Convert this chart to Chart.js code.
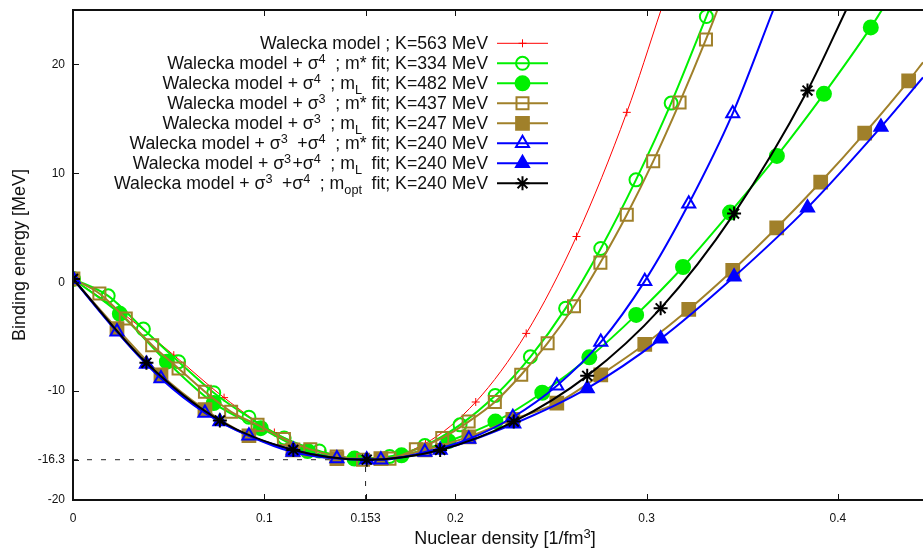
<!DOCTYPE html>
<html>
<head>
<meta charset="utf-8">
<title>Binding energy</title>
<script src="https://cdn.jsdelivr.net/npm/chart.js@4.4.0/dist/chart.umd.min.js"></script>
<style>
    html, body { margin: 0; padding: 0; background: #fff; }
    #wrap { width: 923px; height: 549px; }
</style>
</head>
<body>
<div id="wrap"><canvas id="chart" width="923" height="549"></canvas></div>
<script>
// axis ticks
const xTicks = [0, 0.1, 0.153, 0.2, 0.3, 0.4];
const yTicks = [-20, -16.3, -10, 0, 10, 20];

// marker points; *End = where the curve leaves the frame
const walX = [0, 0.0263, 0.0527, 0.079, 0.1053, 0.1317, 0.158, 0.1843, 0.2106, 0.237, 0.2633, 0.2896];
const walY = [0.3, -2.9, -6.7, -10.6, -13.8, -15.7, -16.2, -14.8, -11.0, -4.7, 4.2, 15.6];
const walEnd = [0.3075, 25];

const s4mX = [0, 0.0184, 0.0368, 0.0552, 0.0736, 0.092, 0.1104, 0.1288, 0.1472, 0.1656, 0.184, 0.2024, 0.2208, 0.2392, 0.2576, 0.276, 0.2944, 0.3128, 0.3312];
const s4mY = [0.3, -1.25, -4.3, -7.3, -10.15, -12.4, -14.3, -15.5, -16.2, -16.0, -15.0, -13.1, -10.4, -6.85, -2.4, 3.1, 9.4, 16.45, 24.4];
const s4mEnd = [0.3326, 25];

const s4lX = [0, 0.0245, 0.0491, 0.0736, 0.0982, 0.1227, 0.1472, 0.1718, 0.1963, 0.2209, 0.2454, 0.27, 0.2945, 0.319, 0.3436, 0.3681, 0.3927, 0.4172];
const s4lY = [0.3, -2.9, -7.3, -11.1, -13.4, -15.5, -16.2, -15.9, -14.6, -12.8, -10.15, -6.9, -3.0, 1.4, 6.4, 11.6, 17.3, 23.4];
const s4lEnd = [0.423, 25];

const s3mX = [0, 0.0138, 0.0276, 0.0414, 0.0552, 0.069, 0.0827, 0.0965, 0.1103, 0.1241, 0.1379, 0.1517, 0.1655, 0.1793, 0.1931, 0.2069, 0.2206, 0.2344, 0.2482, 0.262, 0.2758, 0.2896, 0.3034, 0.3172, 0.331];
const s3mY = [0.3, -1.04, -3.33, -5.78, -7.92, -10.06, -11.9, -13.1, -14.4, -15.35, -16.0, -16.3, -16.2, -15.35, -14.3, -12.8, -11.0, -8.5, -5.6, -2.2, 1.8, 6.2, 11.1, 16.5, 22.3];
const s3mEnd = [0.337, 25];

const s3lX = [0, 0.023, 0.046, 0.069, 0.092, 0.115, 0.138, 0.161, 0.184, 0.207, 0.23, 0.253, 0.276, 0.299, 0.322, 0.345, 0.368, 0.391, 0.414, 0.437];
const s3lY = [0.3, -4.25, -8.5, -11.7, -14.1, -15.4, -16.2, -16.2, -15.4, -14.2, -12.6, -11.1, -8.5, -5.7, -2.5, 1.1, 5.0, 9.2, 13.7, 18.5];
const s3lEnd = [0.4445, 20.2];

const s34mX = [0, 0.023, 0.046, 0.069, 0.092, 0.115, 0.138, 0.161, 0.184, 0.207, 0.23, 0.253, 0.276, 0.299, 0.322, 0.345];
const s34mY = [0.3, -4.55, -8.85, -12.0, -14.1, -15.6, -16.2, -16.3, -15.6, -14.4, -12.4, -9.5, -5.5, 0.1, 7.2, 15.5];
const s34mEnd = [0.3662, 25];

const s34lX = [0, 0.0384, 0.0768, 0.1152, 0.1536, 0.192, 0.2305, 0.2689, 0.3073, 0.3457, 0.3841, 0.4225];
const s34lY = [0.3, -7.5, -12.8, -15.4, -16.3, -15.4, -13.0, -9.75, -5.2, 0.5, 6.85, 14.25];
const s34lEnd = [0.4445, 18.8];

const s34oX = [0, 0.0384, 0.0768, 0.1152, 0.1536, 0.192, 0.2305, 0.2689, 0.3073, 0.3457, 0.3841];
const s34oY = [0.3, -7.4, -12.7, -15.4, -16.3, -15.4, -12.8, -8.6, -2.4, 6.3, 17.6];
const s34oEnd = [0.4043, 25];

// saturation point guides
const satHX = [0, 0.153];
const satHY = [-16.3, -16.3];
const satVX = [0.153, 0.153];
const satVY = [-20, -16.3];

const keyLabels = [
    "Walecka model ; K=563 MeV",
    "Walecka model + σ^{4} ; m* fit; K=334 MeV",
    "Walecka model + σ^{4} ; m_{L} fit; K=482 MeV",
    "Walecka model + σ^{3} ; m* fit; K=437 MeV",
    "Walecka model + σ^{3} ; m_{L} fit; K=247 MeV",
    "Walecka model + σ^{3} +σ^{4} ; m* fit; K=240 MeV",
    "Walecka model + σ^{3}+σ^{4} ; m_{L} fit; K=240 MeV",
    "Walecka model + σ^{3} +σ^{4} ; m_{opt} fit; K=240 MeV",
];
const xTitle = "Nuclear density [1/fm^{3}]";
const yTitle = "Binding energy [MeV]";

const FONT = "'Liberation Sans', Arial, sans-serif";
const RED = "#ff0000", GREEN = "#00f000", BROWN = "#a0802a", BLUE = "#0000ff", BLACK = "#000000";
const NONE = "rgba(0,0,0,0)";

function toPoints(xs, ys, end) {
    const pts = xs.map((x, i) => ({ x: x, y: ys[i] }));
    if (end) pts.push({ x: end[0], y: end[1] });
    return pts;
}

function series(i, xs, ys, end, color, style, r, filled, lw) {
    const n = xs.length;
    return {
        label: keyLabels[i].replace(/[\^_]\{([^}]*)\}/g, "$1"),
        data: toPoints(xs, ys, end),
        borderColor: color,
        borderWidth: lw,
        pointStyle: style,
        pointRadius: (c) => (c.dataIndex < n ? r : 0),
        keyRadius: r,
        pointBorderWidth: lw,
        pointBorderColor: color,
        pointBackgroundColor: filled ? color : NONE,
        backgroundColor: filled ? color : NONE,
        cubicInterpolationMode: "monotone",
        fill: false,
        order: 20 - i,
    };
}

function guide(xs, ys) {
    return {
        data: toPoints(xs, ys),
        borderColor: "#222",
        borderWidth: 1,
        borderDash: [5, 9],
        pointRadius: 0,
        fill: false,
        order: 40,
    };
}

const datasets = [
    series(0, walX, walY, walEnd, RED, "cross", 4, false, 1),
    series(1, s4mX, s4mY, s4mEnd, GREEN, "circle", 6.5, false, 2),
    series(2, s4lX, s4lY, s4lEnd, GREEN, "circle", 7, true, 2),
    series(3, s3mX, s3mY, s3mEnd, BROWN, "rect", 8.5, false, 2),
    series(4, s3lX, s3lY, s3lEnd, BROWN, "rect", 9, true, 2),
    series(5, s34mX, s34mY, s34mEnd, BLUE, "triangle", 7.5, false, 2),
    series(6, s34lX, s34lY, s34lEnd, BLUE, "triangle", 7.5, true, 2),
    series(7, s34oX, s34oY, s34oEnd, BLACK, "star", 7, false, 2),
    guide(satHX, satHY),
    guide(satVX, satVY),
];

function parseKey(s) {
    const out = [];
    const re = /([\^_])\{([^}]*)\}/g;
    let last = 0, m;
    while ((m = re.exec(s))) {
        if (m.index > last) out.push({ t: s.slice(last, m.index), k: "n" });
        out.push({ t: m[2], k: m[1] === "^" ? "sup" : "sub" });
        last = re.lastIndex;
    }
    if (last < s.length) out.push({ t: s.slice(last), k: "n" });
    return out;
}

// text with ^{sup} and _{sub} parts; align is "right" or "center"
function drawRich(ctx, text, x0, baseline, size, align) {
    const big = size + "px " + FONT, small = (size * 0.72).toFixed(1) + "px " + FONT;
    const segs = parseKey(text);
    let width = 0;
    segs.forEach((s, i) => {
        ctx.font = s.k === "n" ? big : small;
        s.w = ctx.measureText(s.t).width;
        if (s.k !== "n") {
            // gnuplot leaves some room after a script
            const next = segs[i + 1];
            s.w += next && next.t[0] === " " ? size * 0.26 : next && next.t[0] === "+" ? size * 0.08 : 0;
        }
        width += s.w;
    });
    let x = align === "center" ? x0 - width / 2 : x0 - width;
    ctx.textAlign = "left";
    ctx.textBaseline = "alphabetic";
    segs.forEach((s) => {
        ctx.font = s.k === "n" ? big : small;
        const dy = s.k === "sup" ? -size * 0.33 : s.k === "sub" ? size * 0.28 : 0;
        ctx.fillText(s.t, x, baseline + dy);
        x += s.w;
    });
}

// gnuplot style key in the upper left, plus the x axis title
const keyPlugin = {
    id: "gnuKey",
    afterDraw(chart) {
        const ctx = chart.ctx;
        const textRight = 488, lineL = 497, lineR = 548, top = 43.3, step = 20;
        ctx.save();
        ctx.fillStyle = "#111";
        drawRich(ctx, xTitle, 505, 544.3, 18, "center");
        keyLabels.forEach((label, i) => {
            const ds = chart.data.datasets[i];
            const y = top + i * step;
            ctx.fillStyle = "#111";
            drawRich(ctx, label, textRight, y + 5.5, 17.7, "right");
            ctx.strokeStyle = ds.borderColor;
            ctx.lineWidth = ds.borderWidth;
            ctx.setLineDash([]);
            ctx.beginPath();
            ctx.moveTo(lineL, y);
            ctx.lineTo(lineR, y);
            ctx.stroke();
            ctx.fillStyle = ds.pointBackgroundColor;
            Chart.helpers.drawPoint(ctx, {
                pointStyle: ds.pointStyle,
                radius: ds.keyRadius,
                rotation: 0,
                borderWidth: ds.pointBorderWidth,
            }, (lineL + lineR) / 2, y);
        });
        ctx.restore();
    },
};

// border on left, bottom and top with inward ticks
const framePlugin = {
    id: "frame",
    afterDatasetsDraw(chart) {
        const { ctx, chartArea: a, scales } = chart;
        const tl = 6;
        ctx.save();
        ctx.strokeStyle = "#111";
        ctx.lineWidth = 2;
        ctx.beginPath();
        ctx.moveTo(a.right, a.top);
        ctx.lineTo(a.left, a.top);
        ctx.lineTo(a.left, a.bottom);
        ctx.lineTo(a.right, a.bottom);
        ctx.stroke();
        ctx.lineWidth = 1;
        ctx.beginPath();
        xTicks.forEach((v) => {
            const px = Math.round(scales.x.getPixelForValue(v)) + 0.5;
            ctx.moveTo(px, a.bottom);
            ctx.lineTo(px, a.bottom - tl);
            ctx.moveTo(px, a.top);
            ctx.lineTo(px, a.top + tl);
        });
        yTicks.forEach((v) => {
            const py = Math.round(scales.y.getPixelForValue(v)) + 0.5;
            ctx.moveTo(a.left, py);
            ctx.lineTo(a.left + tl, py);
        });
        ctx.stroke();
        ctx.restore();
    },
};

function noPad(s) {
    s.paddingLeft = 0;
    s.paddingRight = 0;
    s.paddingTop = 0;
    s.paddingBottom = 0;
}

const ctx = document.getElementById("chart").getContext("2d");
new Chart(ctx, {
    type: "line",
    data: { datasets: datasets },
    options: {
        responsive: false,
        devicePixelRatio: 1,
        animation: false,
        events: [],
        layout: { autoPadding: false, padding: { top: 10, right: 0, bottom: 0, left: 0 } },
        plugins: { legend: { display: false }, title: { display: false }, tooltip: { enabled: false } },
        scales: {
            x: {
                type: "linear",
                min: 0,
                max: 0.4445,
                grid: { display: false, drawTicks: false },
                border: { display: false },
                afterBuildTicks: (s) => { s.ticks = xTicks.map((v) => ({ value: v })); },
                afterFit: (s) => { s.height = 49; noPad(s); },
                ticks: {
                    autoSkip: false,
                    maxRotation: 0,
                    padding: 11,
                    color: "#111",
                    font: { family: FONT, size: 12 },
                    callback: (v) => String(v),
                },
                title: { display: false },
            },
            y: {
                type: "linear",
                min: -20,
                max: 25,
                grid: { display: false, drawTicks: false },
                border: { display: false },
                afterBuildTicks: (s) => { s.ticks = yTicks.map((v) => ({ value: v })); },
                afterFit: (s) => { s.width = 73; noPad(s); },
                ticks: {
                    autoSkip: false,
                    padding: 8,
                    color: "#111",
                    font: { family: FONT, size: 12 },
                    callback: (v) => String(v),
                },
                title: {
                    display: true,
                    text: yTitle,
                    color: "#111",
                    font: { family: FONT, size: 18 },
                    padding: { top: 9, bottom: 0 },
                },
            },
        },
    },
    plugins: [framePlugin, keyPlugin],
});
</script>
</body>
</html>
